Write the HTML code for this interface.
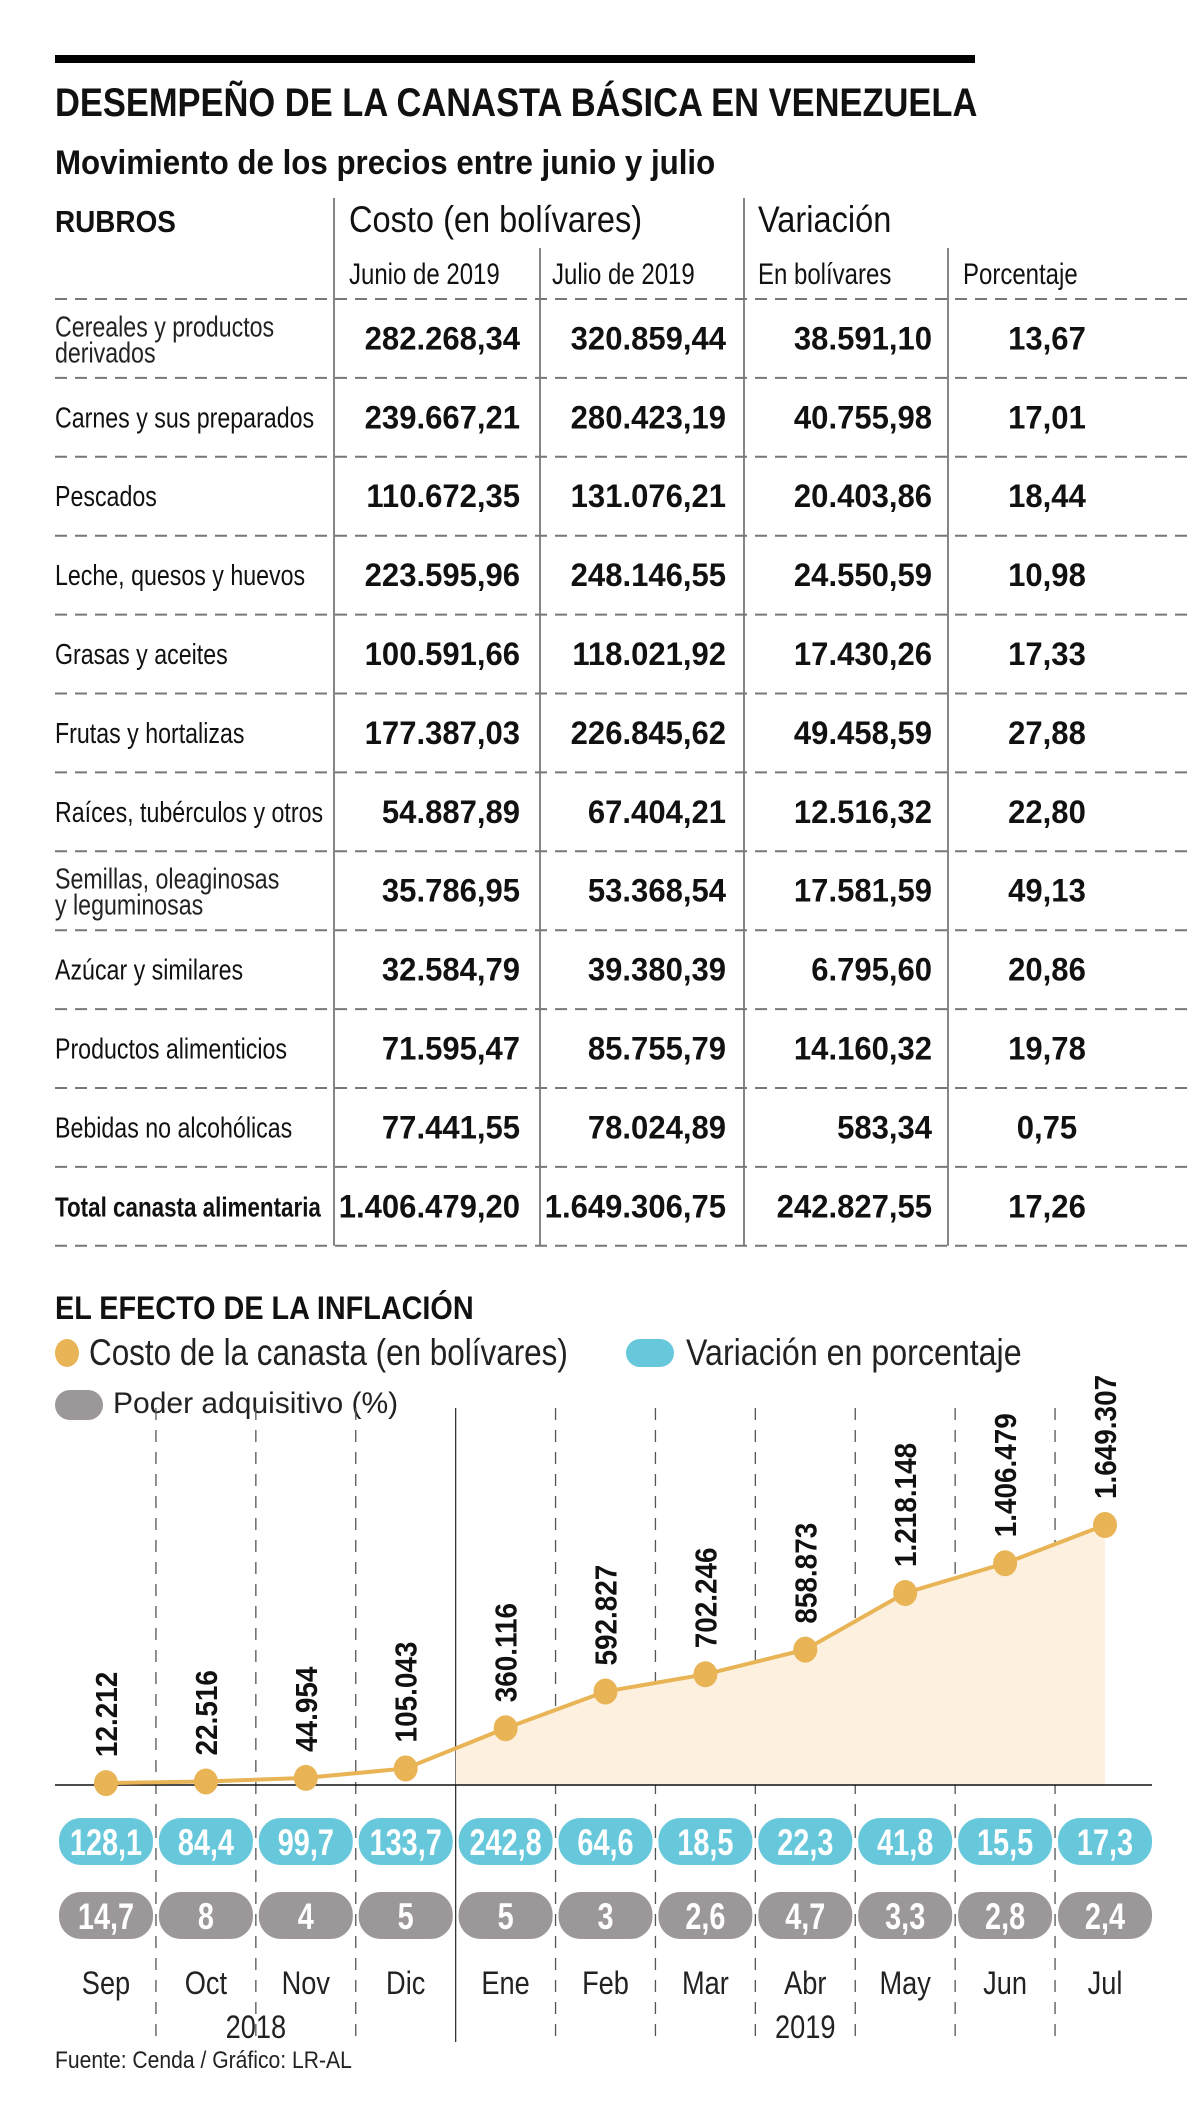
<!DOCTYPE html>
<html><head><meta charset="utf-8">
<style>
html,body{margin:0;padding:0;background:#fff;}
svg{display:block;font-family:"Liberation Sans",sans-serif;}
</style></head>
<body>
<svg id="page" width="1200" height="2122" viewBox="0 0 1200 2122" xmlns="http://www.w3.org/2000/svg">
<rect x="55" y="55" width="920" height="8" fill="#000"/>
<text transform="scale(0.862,1)" x="63.8" y="116" font-size="40" font-weight="bold" fill="#111">DESEMPEÑO DE LA CANASTA BÁSICA EN VENEZUELA</text>
<text transform="scale(0.92,1)" x="59.8" y="174" font-size="34" font-weight="bold" fill="#111">Movimiento de los precios entre junio y julio</text>
<g id="table"></g>
<text transform="scale(0.9,1)" x="61.1" y="1319" font-size="32" font-weight="bold" fill="#111">EL EFECTO DE LA INFLACIÓN</text>
<g>
<ellipse cx="67" cy="1353" rx="12" ry="14" fill="#e8b455"/>
<text transform="scale(0.85,1)" x="104.7" y="1365" font-size="37" fill="#222">Costo de la canasta (en bolívares)</text>
<rect x="626" y="1339" width="48" height="28" rx="14" fill="#67c8dc"/>
<text transform="scale(0.87,1)" x="788.5" y="1365" font-size="37" fill="#222">Variación en porcentaje</text>
<rect x="55" y="1390" width="48" height="30" rx="15" fill="#9c9799"/>
<text x="113" y="1413" font-size="30" fill="#222">Poder adquisitivo (%)</text>
</g>
<g id="chart"></g>
<text transform="scale(0.88,1)" x="62.5" y="2068" font-size="24" fill="#222">Fuente: Cenda / Gráfico: LR-AL</text>
</svg>
<script>
const NS="http://www.w3.org/2000/svg";
// ---- table data ----
const rowLabels=[["Cereales y productos","derivados"],["Carnes y sus preparados"],["Pescados"],["Leche, quesos y huevos"],["Grasas y aceites"],["Frutas y hortalizas"],["Raíces, tubérculos y otros"],["Semillas, oleaginosas","y leguminosas"],["Azúcar y similares"],["Productos alimenticios"],["Bebidas no alcohólicas"],["Total canasta alimentaria"]];
const junio=["282.268,34","239.667,21","110.672,35","223.595,96","100.591,66","177.387,03","54.887,89","35.786,95","32.584,79","71.595,47","77.441,55","1.406.479,20"];
const julio=["320.859,44","280.423,19","131.076,21","248.146,55","118.021,92","226.845,62","67.404,21","53.368,54","39.380,39","85.755,79","78.024,89","1.649.306,75"];
const varBs=["38.591,10","40.755,98","20.403,86","24.550,59","17.430,26","49.458,59","12.516,32","17.581,59","6.795,60","14.160,32","583,34","242.827,55"];
const varPct=["13,67","17,01","18,44","10,98","17,33","27,88","22,80","49,13","20,86","19,78","0,75","17,26"];
// ---- chart data ----
const months=["Sep","Oct","Nov","Dic","Ene","Feb","Mar","Abr","May","Jun","Jul"];
const cost=[12212,22516,44954,105043,360116,592827,702246,858873,1218148,1406479,1649307];
const costLabels=["12.212","22.516","44.954","105.043","360.116","592.827","702.246","858.873","1.218.148","1.406.479","1.649.307"];
const variation=["128,1","84,4","99,7","133,7","242,8","64,6","18,5","22,3","41,8","15,5","17,3"];
const power=["14,7","8","4","5","5","3","2,6","4,7","3,3","2,8","2,4"];

function el(tag,attrs,parent,txt){const e=document.createElementNS(NS,tag);for(const k in attrs)e.setAttribute(k,attrs[k]);if(txt!==undefined)e.textContent=txt;parent.appendChild(e);return e;}
function ct(x,y,s,attrs,parent,txt){const a=Object.assign({x:x/s,y:y,transform:`scale(${s},1)`},attrs);return el('text',a,parent,txt);}

// ---- table ----
const T=document.getElementById('table');
const top0=299,rowH=78.9,nR=rowLabels.length;
const colX=[334,540,744,948];
[0,2].forEach(i=>{const l=el('line',{x1:colX[i],x2:colX[i],y1:198,y2:top0+nR*rowH,stroke:'#444','stroke-width':1.3},T);
});
[1,3].forEach(i=>{const l=el('line',{x1:colX[i],x2:colX[i],y1:248,y2:top0+nR*rowH,stroke:'#444','stroke-width':1.3},T);
});
let h;
h=ct(55,232,0.9,{'font-size':31,'font-weight':'bold',fill:'#111'},T,'RUBROS');
h=ct(349,232,0.88,{'font-size':37,fill:'#111'},T,'Costo (en bolívares)');
h=ct(758,232,0.88,{'font-size':37,fill:'#111'},T,'Variación');
const subs=[["Junio de 2019",349],["Julio de 2019",552],["En bolívares",758],["Porcentaje",963]];
subs.forEach(s=>{const t=ct(s[1],284,0.8,{'font-size':30,fill:'#111'},T,s[0]);});
for(let i=0;i<=nR;i++){const y=top0+i*rowH;const l=el('line',{x1:55,x2:1194,y1:y,y2:y,stroke:'#777','stroke-width':2,'stroke-dasharray':'12 8'},T);
}
for(let i=0;i<nR;i++){
  const c=top0+(i+0.5)*rowH;const total=i===nR-1;
  const lab=rowLabels[i];
  if(lab.length===2){
    const a=ct(55,c-2,0.8,{'font-size':29,fill:'#222'},T,lab[0]);
    const b=ct(55,c+24,0.8,{'font-size':29,fill:'#222'},T,lab[1]);
  } else {
    const a=ct(55,c+10,0.8,{'font-size':total?28:29,fill:'#111','font-weight':total?'bold':'normal'},T,lab[0]);
  }
  const vals=[[junio[i],520,'end'],[julio[i],726,'end'],[varBs[i],932,'end'],[varPct[i],1047,'middle']];
  vals.forEach(v=>{const t=ct(v[1],c+11,0.97,{'font-size':32,'font-weight':'bold',fill:'#111','text-anchor':v[2]},T,v[0]);
  });
}

// ---- chart ----
const C=document.getElementById('chart');
const xs0=106,xs1=1105,baseY=1785,maxPx=260,maxV=1649307;
const xScale=i=>xs0+(xs1-xs0)*i/(months.length-1);
const yScale=v=>baseY-v/maxV*maxPx;
for(let i=0;i<months.length-1;i++){
  const x=(xScale(i)+xScale(i+1))/2;
  const solid=(i===3);
  const l=el('line',{x1:x,x2:x,y1:1408,y2:solid?2042:2036,stroke:solid?'#333':'#555','stroke-width':1.3,'stroke-dasharray':solid?'none':'12 10'},C);
  
}
const xDiv=(xScale(3)+xScale(4))/2;
const yDiv=yScale(cost[3]+(cost[4]-cost[3])*(xDiv-xScale(3))/(xScale(4)-xScale(3)));
let d=`M${xDiv},${baseY} L${xDiv},${yDiv}`;
for(let i=4;i<cost.length;i++)d+=` L${xScale(i)},${yScale(cost[i])}`;
d+=` L${xScale(cost.length-1)},${baseY} Z`;
const area=el('path',{d:d,fill:'#fdf0de'},C);

const ax=el('line',{x1:55,x2:1152,y1:baseY,y2:baseY,stroke:'#111','stroke-width':1.5},C);

const pts=cost.map((v,i)=>xScale(i)+','+yScale(v)).join(' ');
const line=el('polyline',{points:pts,fill:'none',stroke:'#e8b455','stroke-width':4},C);

cost.forEach((v,i)=>{
  const x=xScale(i),y=yScale(v);
  const p=el('ellipse',{cx:x,cy:y,rx:12,ry:13,fill:'#e8b455'},C);
  
  const t=el('text',{x:0,y:0,transform:`translate(${x+11},${y-26}) rotate(-90) scale(0.9,1)`,'font-size':31,'font-weight':'bold',fill:'#111'},C,costLabels[i]);
  
  const cp=el('rect',{x:x-47,y:1818,width:94,height:47,rx:22,fill:'#67c8dc'},C);
  
  const vt=ct(x,1855,0.78,{'font-size':37,'font-weight':'bold',fill:'#fff','text-anchor':'middle'},C,variation[i]);
  
  const gp=el('rect',{x:x-47,y:1892,width:94,height:47,rx:22,fill:'#9c9799'},C);
  
  const gt=ct(x,1929,0.78,{'font-size':37,'font-weight':'bold',fill:'#fff','text-anchor':'middle'},C,power[i]);
  
  const mt=ct(x,1994,0.85,{'font-size':32,fill:'#222','text-anchor':'middle'},C,months[i]);
  
});
const y1=ct(xScale(1.5),2038,0.85,{'font-size':32,fill:'#222','text-anchor':'middle'},C,'2018');

const y2=ct(xScale(7),2038,0.85,{'font-size':32,fill:'#222','text-anchor':'middle'},C,'2019');

</script>
</body></html>
